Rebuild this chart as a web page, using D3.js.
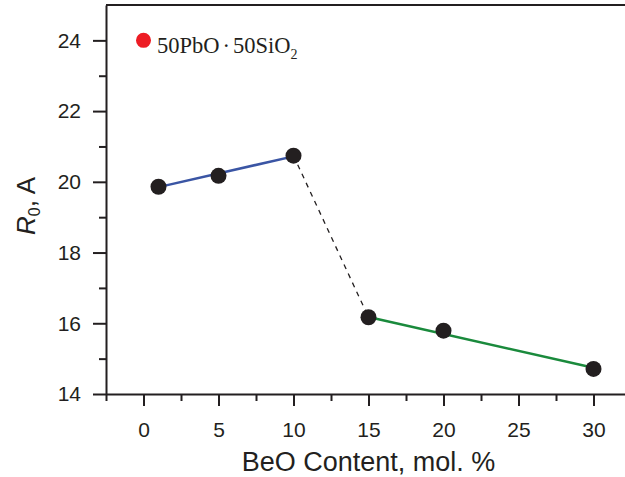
<!DOCTYPE html>
<html>
<head>
<meta charset="utf-8">
<script src="https://cdn.jsdelivr.net/npm/d3@7"></script>
<style>
  html, body { margin: 0; padding: 0; background: #fff; }
  svg { display: block; }
</style>
</head>
<body>
<svg id="chart" width="625" height="477"></svg>
<script>
// BeO content (mol. %) and measured R0 (A)
const beoContent = [1, 5, 10, 15, 20, 30];
const r0Values = [19.86, 20.17, 20.74, 16.17, 15.79, 14.71];

// Linear trends for the two composition ranges (end points)
const lowTrendX = [1, 10];
const lowTrendY = [19.85, 20.72];
const highTrendX = [15, 30];
const highTrendY = [16.18, 14.74];

// Reference glass 50PbO·50SiO2
const refX = [0];
const refY = [24];

const xTicks = [0, 5, 10, 15, 20, 25, 30];
const yTicks = [14, 16, 18, 20, 22, 24];

const svg = d3.select("#chart");
const plotLeft = 106, plotRight = 631, plotTop = 5, plotBottom = 394;

const x = d3.scaleLinear().domain([-2.5, 32.5]).range([plotLeft, plotRight]);
const y = d3.scaleLinear().domain([14, 25]).range([plotBottom, plotTop]);

const axisFont = "'Liberation Sans', Arial, sans-serif";

// top frame line
svg.append("line")
  .attr("x1", plotLeft).attr("x2", plotRight)
  .attr("y1", plotTop).attr("y2", plotTop)
  .attr("stroke", "#231f20").attr("stroke-width", 2);

// x axis: major ticks with labels, minor ticks between
svg.append("g").attr("transform", `translate(0,${plotBottom})`)
  .call(d3.axisBottom(x).tickValues(xTicks).tickSize(12).tickSizeOuter(0).tickPadding(16).tickFormat(d3.format("d")));
svg.append("g").attr("transform", `translate(0,${plotBottom})`)
  .call(d3.axisBottom(x).tickValues(d3.range(-2.5, 33, 5)).tickSize(7).tickSizeOuter(0).tickFormat(""))
  .select(".domain").remove();

svg.append("g").attr("transform", `translate(${plotLeft},0)`)
  .call(d3.axisLeft(y).tickValues(yTicks).tickSize(13).tickSizeOuter(0).tickPadding(12).tickFormat(d3.format("d")));
svg.append("g").attr("transform", `translate(${plotLeft},0)`)
  .call(d3.axisLeft(y).tickValues(d3.range(15, 25, 2)).tickSize(7).tickSizeOuter(0).tickFormat(""))
  .select(".domain").remove();

svg.selectAll(".domain, .tick line").attr("stroke", "#231f20").attr("stroke-width", 2);
svg.selectAll(".tick text")
  .attr("font-family", axisFont).attr("font-size", 21).attr("fill", "#231f20");

// axis titles
svg.append("text")
  .attr("x", (plotLeft + plotRight) / 2).attr("y", 471)
  .attr("text-anchor", "middle")
  .attr("font-family", axisFont).attr("font-size", 27).attr("fill", "#231f20")
  .text("BeO Content, mol. %");

const yTitle = svg.append("text")
  .attr("transform", "translate(35,206) rotate(-90)")
  .attr("text-anchor", "middle")
  .attr("font-family", axisFont).attr("font-size", 26).attr("fill", "#231f20");
yTitle.append("tspan").attr("font-style", "italic").text("R");
yTitle.append("tspan").attr("font-size", 16).attr("dy", 5).text("0");
yTitle.append("tspan").attr("dy", -5).text(", A");

// dashed connector between the two ranges
svg.append("line")
  .attr("x1", x(beoContent[2])).attr("y1", y(r0Values[2]))
  .attr("x2", x(beoContent[3])).attr("y2", y(r0Values[3]))
  .attr("stroke", "#231f20").attr("stroke-width", 1.3)
  .attr("stroke-dasharray", "5,5");

// trend lines
svg.append("line")
  .attr("x1", x(lowTrendX[0])).attr("y1", y(lowTrendY[0]))
  .attr("x2", x(lowTrendX[1])).attr("y2", y(lowTrendY[1]))
  .attr("stroke", "#3a55a4").attr("stroke-width", 2.5);
svg.append("line")
  .attr("x1", x(highTrendX[0])).attr("y1", y(highTrendY[0]))
  .attr("x2", x(highTrendX[1])).attr("y2", y(highTrendY[1]))
  .attr("stroke", "#1a8a3c").attr("stroke-width", 2.5);

// data points
svg.append("g").selectAll("circle")
  .data(beoContent.map((b, i) => [b, r0Values[i]]))
  .join("circle")
  .attr("cx", d => x(d[0])).attr("cy", d => y(d[1]))
  .attr("r", 8).attr("fill", "#231f20");

// reference point and its label
svg.append("circle")
  .attr("cx", x(refX[0])).attr("cy", y(refY[0]))
  .attr("r", 7.5).attr("fill", "#ed1c24");

const lbl = svg.append("text")
  .attr("x", 157).attr("y", 53)
  .attr("font-family", "'Liberation Serif', 'Times New Roman', serif")
  .attr("font-size", 22.5).attr("fill", "#231f20");
lbl.append("tspan").text("50PbO");
lbl.append("tspan").attr("dx", 3).text("·");
lbl.append("tspan").attr("dx", 3).text("50SiO");
lbl.append("tspan").attr("font-size", 14).attr("dy", 6).text("2");
</script>
</body>
</html>
